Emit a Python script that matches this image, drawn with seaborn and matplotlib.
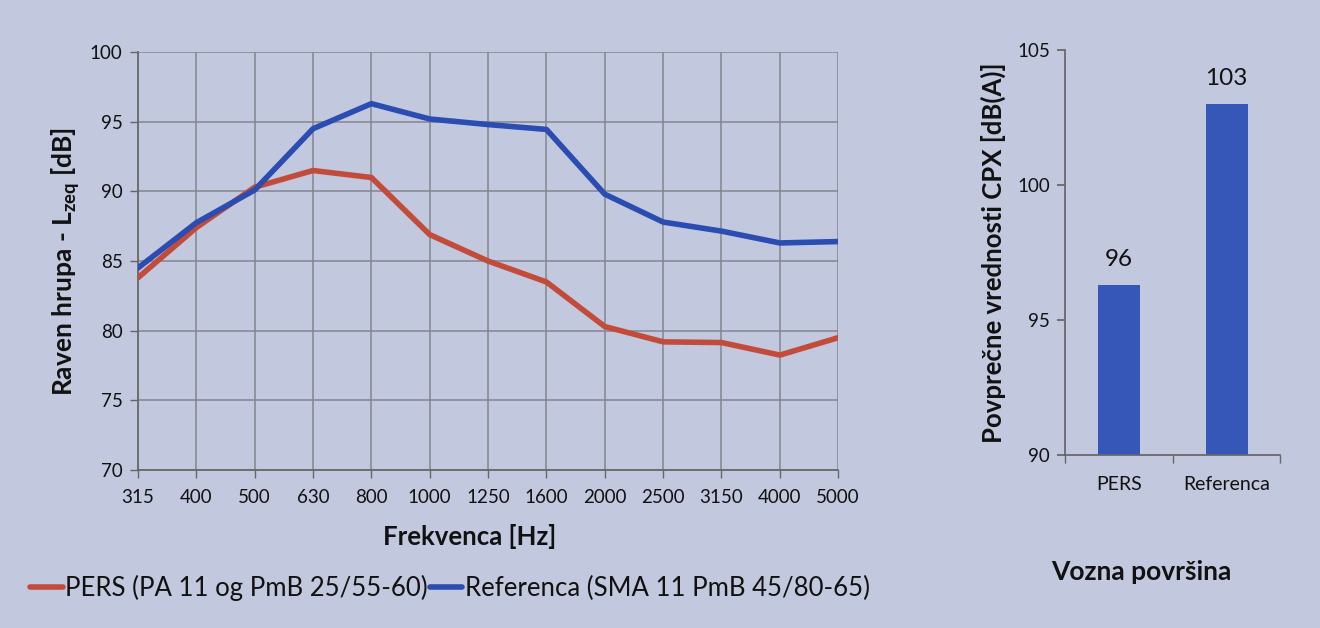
import numpy as np
import pandas as pd
import matplotlib
matplotlib.use("Agg")
import matplotlib.pyplot as plt
import seaborn as sns
from matplotlib.lines import Line2D

freqs = ["315", "400", "500", "630", "800", "1000", "1250", "1600", "2000", "2500", "3150", "4000", "5000"]
pers = [83.8, 87.4, 90.3, 91.5, 91.0, 86.9, 85.0, 83.5, 80.3, 79.2, 79.15, 78.25, 79.5]
referenca = [84.5, 87.75, 90.1, 94.5, 96.3, 95.2, 94.8, 94.45, 89.8, 87.8, 87.15, 86.3, 86.4]
series_names = ["PERS (PA 11 og PmB 25/55-60)", "Referenca (SMA 11 PmB 45/80-65)"]

bar_cats = ["PERS", "Referenca"]
bar_vals = [96.3, 103.0]
bar_labels = ["96", "103"]

BG = "#c2c8de"
RED = "#c24b3a"
BLUE = "#2b4cb0"
BAR = "#3656b8"
GRID = "#85858f"
TXT = "#111111"

sns.set_theme(style="white")
plt.rcParams["font.family"] = ["Lato", "DejaVu Sans"]
plt.rcParams["mathtext.fontset"] = "custom"
plt.rcParams["mathtext.bf"] = "Lato:bold"
plt.rcParams["mathtext.rm"] = "Lato"

fig = plt.figure(figsize=(13.2, 6.28), dpi=100, facecolor=BG)
ax = fig.add_axes([0.1045, 0.2516, 0.5305, 0.6654])
ax2 = fig.add_axes([0.807, 0.2755, 0.163, 0.6445])
for a in (ax, ax2):
    a.set_facecolor(BG)

pos = np.arange(len(freqs))
df = pd.DataFrame({
    "pos": np.concatenate([pos, pos]),
    "val": pers + referenca,
    "serie": [series_names[0]] * len(freqs) + [series_names[1]] * len(freqs),
})
sns.lineplot(data=df, x="pos", y="val", hue="serie", palette=[RED, BLUE],
             linewidth=4, ax=ax, legend=False, zorder=3)

ax.set_xlim(0, len(freqs) - 1)
ax.set_ylim(70, 100)
ax.set_xticks(pos)
ax.set_xticklabels(freqs)
ax.set_yticks(np.arange(70, 101, 5))
ax.grid(True, color=GRID, linewidth=1.1)
for s in ax.spines.values():
    s.set_visible(False)
ax.spines["left"].set_visible(True)
ax.spines["left"].set_color("#666666")
ax.spines["bottom"].set_visible(True)
ax.spines["bottom"].set_color("#666666")
ax.tick_params(axis="both", which="major", direction="out", length=6, width=1,
               color="#666666", labelsize=13.5, labelcolor=TXT,
               bottom=True, left=True)
ax.tick_params(axis="x", pad=8)
ax.tick_params(axis="y", pad=5)
ax.set_xlabel("Frekvenca [Hz]", fontsize=18.5, fontweight="bold", color=TXT, va="center")
ax.xaxis.set_label_coords(0.474, -0.160)
ax.set_ylabel(r"Raven hrupa - L$_{\mathbf{zeq}}$ [dB]", fontsize=19, fontweight="bold",
              color=TXT, va="center")
ax.yaxis.set_label_coords(-0.103, 0.5)

handles = [Line2D([0], [0], color=RED, lw=4), Line2D([0], [0], color=BLUE, lw=4)]
fig.legend(handles, series_names, loc="center left", bbox_to_anchor=(0.0227, 0.064),
           ncol=2, frameon=False, fontsize=18.5, handlelength=1.28, handletextpad=0.08,
           columnspacing=0.08, labelcolor=TXT, borderpad=0, borderaxespad=0)

bdf = pd.DataFrame({"cat": bar_cats, "val": bar_vals})
sns.barplot(data=bdf, x="cat", y="val", color=BAR, width=0.39, ax=ax2, saturation=1,
            linewidth=0)
ax2.set_ylim(90, 105)
ax2.set_xlim(-0.5, 1.5)
ax2.set_yticks([90, 95, 100, 105])
for s in ["top", "right"]:
    ax2.spines[s].set_visible(False)
for s in ["left", "bottom"]:
    ax2.spines[s].set_color("#666666")
ax2.tick_params(axis="y", direction="out", length=6, color="#666666", labelsize=13.5,
                labelcolor=TXT, left=True, pad=5)
ax2.tick_params(axis="x", which="major", length=0, labelsize=14, labelcolor=TXT, pad=15)
ax2.set_xticks([-0.5, 0.5, 1.5], minor=True)
ax2.tick_params(axis="x", which="minor", direction="out", length=6, color="#666666", bottom=True)
for p, lab in zip(ax2.patches, bar_labels):
    ax2.text(p.get_x() + p.get_width() / 2, p.get_height() + 0.55, lab,
             ha="center", va="bottom", fontsize=17.5, color=TXT)
ax2.set_xlabel("Vozna površina", fontsize=19, fontweight="bold", color=TXT, va="center")
ax2.xaxis.set_label_coords(0.353, -0.289)
ax2.set_ylabel("Povprečne vrednosti CPX [dB(A)]", fontsize=18.5, fontweight="bold",
               color=TXT, va="center")
ax2.yaxis.set_label_coords(-0.335, 0.5)

fig.savefig("out.png", dpi=100, facecolor=BG)
